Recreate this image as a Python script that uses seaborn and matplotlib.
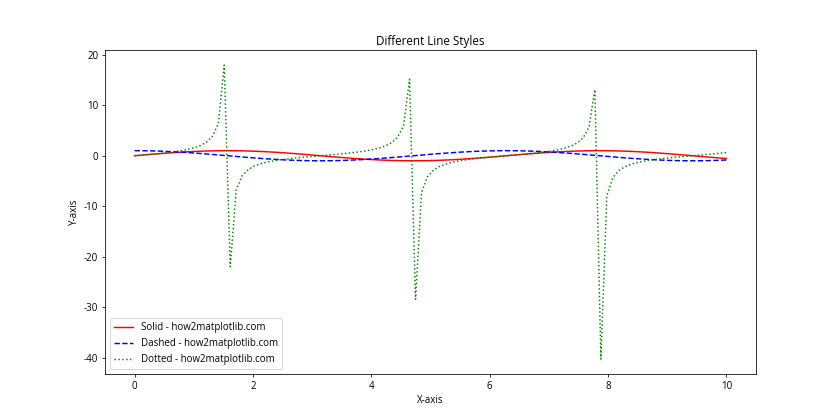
import matplotlib
matplotlib.use("Agg")
import matplotlib.pyplot as plt
import seaborn as sns

plt.rcParams["font.family"] = ["Open Sans", "DejaVu Sans"]
plt.rcParams["axes.unicode_minus"] = False

# x positions (100 samples between 0 and 10)
x_vals = [
    0.0, 0.101, 0.202, 0.303, 0.404, 0.505, 0.606, 0.707, 0.808, 0.909,
    1.010, 1.111, 1.212, 1.313, 1.414, 1.515, 1.616, 1.717, 1.818, 1.919,
    2.020, 2.121, 2.222, 2.323, 2.424, 2.525, 2.626, 2.727, 2.828, 2.929,
    3.030, 3.131, 3.232, 3.333, 3.434, 3.535, 3.636, 3.737, 3.838, 3.939,
    4.040, 4.141, 4.242, 4.343, 4.444, 4.545, 4.646, 4.747, 4.848, 4.949,
    5.051, 5.152, 5.253, 5.354, 5.455, 5.556, 5.657, 5.758, 5.859, 5.960,
    6.061, 6.162, 6.263, 6.364, 6.465, 6.566, 6.667, 6.768, 6.869, 6.970,
    7.071, 7.172, 7.273, 7.374, 7.475, 7.576, 7.677, 7.778, 7.879, 7.980,
    8.081, 8.182, 8.283, 8.384, 8.485, 8.586, 8.687, 8.788, 8.889, 8.990,
    9.091, 9.192, 9.293, 9.394, 9.495, 9.596, 9.697, 9.798, 9.899, 10.0,
]

solid_vals = [
    0.0, 0.101, 0.201, 0.298, 0.393, 0.484, 0.570, 0.650, 0.723, 0.789,
    0.847, 0.896, 0.937, 0.967, 0.988, 0.999, 0.999, 0.989, 0.969, 0.940,
    0.900, 0.852, 0.795, 0.730, 0.658, 0.579, 0.494, 0.405, 0.311, 0.214,
    0.111, 0.010, -0.091, -0.191, -0.289, -0.384, -0.475, -0.561, -0.642, -0.716,
    -0.783, -0.841, -0.892, -0.933, -0.964, -0.986, -0.998, -0.999, -0.991, -0.972,
    -0.943, -0.905, -0.858, -0.802, -0.737, -0.666, -0.587, -0.503, -0.414, -0.322,
    -0.221, -0.121, -0.021, 0.080, 0.180, 0.279, 0.374, 0.466, 0.553, 0.634,
    0.709, 0.776, 0.836, 0.887, 0.929, 0.962, 0.985, 0.997, 1.000, 0.992,
    0.974, 0.947, 0.910, 0.863, 0.808, 0.744, 0.673, 0.596, 0.512, 0.424,
    0.328, 0.231, 0.132, 0.031, -0.070, -0.170, -0.269, -0.365, -0.457, -0.544,
]

dashed_vals = [
    1.0, 0.995, 0.980, 0.954, 0.920, 0.875, 0.822, 0.760, 0.691, 0.615,
    0.532, 0.444, 0.351, 0.255, 0.156, 0.056, -0.045, -0.146, -0.246, -0.342,
    -0.435, -0.523, -0.606, -0.683, -0.753, -0.815, -0.869, -0.915, -0.950, -0.977,
    -0.994, -1.000, -0.996, -0.982, -0.958, -0.924, -0.880, -0.828, -0.767, -0.698,
    -0.623, -0.541, -0.453, -0.361, -0.265, -0.166, -0.066, 0.035, 0.136, 0.235,
    0.332, 0.425, 0.514, 0.598, 0.676, 0.746, 0.810, 0.864, 0.910, 0.947,
    0.975, 0.993, 1.000, 0.997, 0.984, 0.960, 0.927, 0.885, 0.834, 0.774,
    0.706, 0.631, 0.549, 0.462, 0.370, 0.275, 0.176, 0.076, -0.025, -0.126,
    -0.225, -0.322, -0.416, -0.505, -0.590, -0.668, -0.740, -0.803, -0.859, -0.906,
    -0.945, -0.973, -0.991, -1.000, -0.998, -0.985, -0.963, -0.931, -0.890, -0.839,
]

dotted_vals = [
    0.0, 0.101, 0.205, 0.313, 0.428, 0.553, 0.693, 0.854, 1.046, 1.283,
    1.593, 2.020, 2.670, 3.800, 6.340, 17.96, -22.00, -6.757, -3.949, -2.750,
    -2.070, -1.628, -1.312, -1.069, -0.874, -0.710, -0.569, -0.443, -0.327, -0.219,
    -0.112, -0.010, 0.091, 0.194, 0.301, 0.416, 0.540, 0.678, 0.837, 1.025,
    1.257, 1.557, 1.969, 2.588, 3.646, 5.948, 15.15, -28.47, -7.300, -4.138,
    -2.844, -2.129, -1.668, -1.340, -1.091, -0.892, -0.725, -0.582, -0.455, -0.340,
    -0.226, -0.122, -0.021, 0.081, 0.183, 0.290, 0.403, 0.526, 0.663, 0.819,
    1.005, 1.231, 1.523, 1.919, 2.510, 3.503, 5.603, 13.10, -40.30, -7.900,
    -4.332, -2.940, -2.187, -1.708, -1.369, -1.114, -0.910, -0.741, -0.596, -0.468,
    -0.347, -0.237, -0.133, -0.031, 0.070, 0.173, 0.279, 0.392, 0.513, 0.648,
]

fig, ax = plt.subplots(figsize=(12, 6), dpi=70)

sns.lineplot(x=x_vals, y=solid_vals, color="red", linestyle="-",
             label="Solid - how2matplotlib.com", ax=ax)
sns.lineplot(x=x_vals, y=dashed_vals, color="blue", linestyle="--",
             label="Dashed - how2matplotlib.com", ax=ax)
sns.lineplot(x=x_vals, y=dotted_vals, color="green", linestyle=":",
             label="Dotted - how2matplotlib.com", ax=ax)

ax.set_title("Different Line Styles")
ax.set_xlabel("X-axis")
ax.set_ylabel("Y-axis")
ax.legend(loc="lower left")

plt.savefig("out.png", dpi=70)
